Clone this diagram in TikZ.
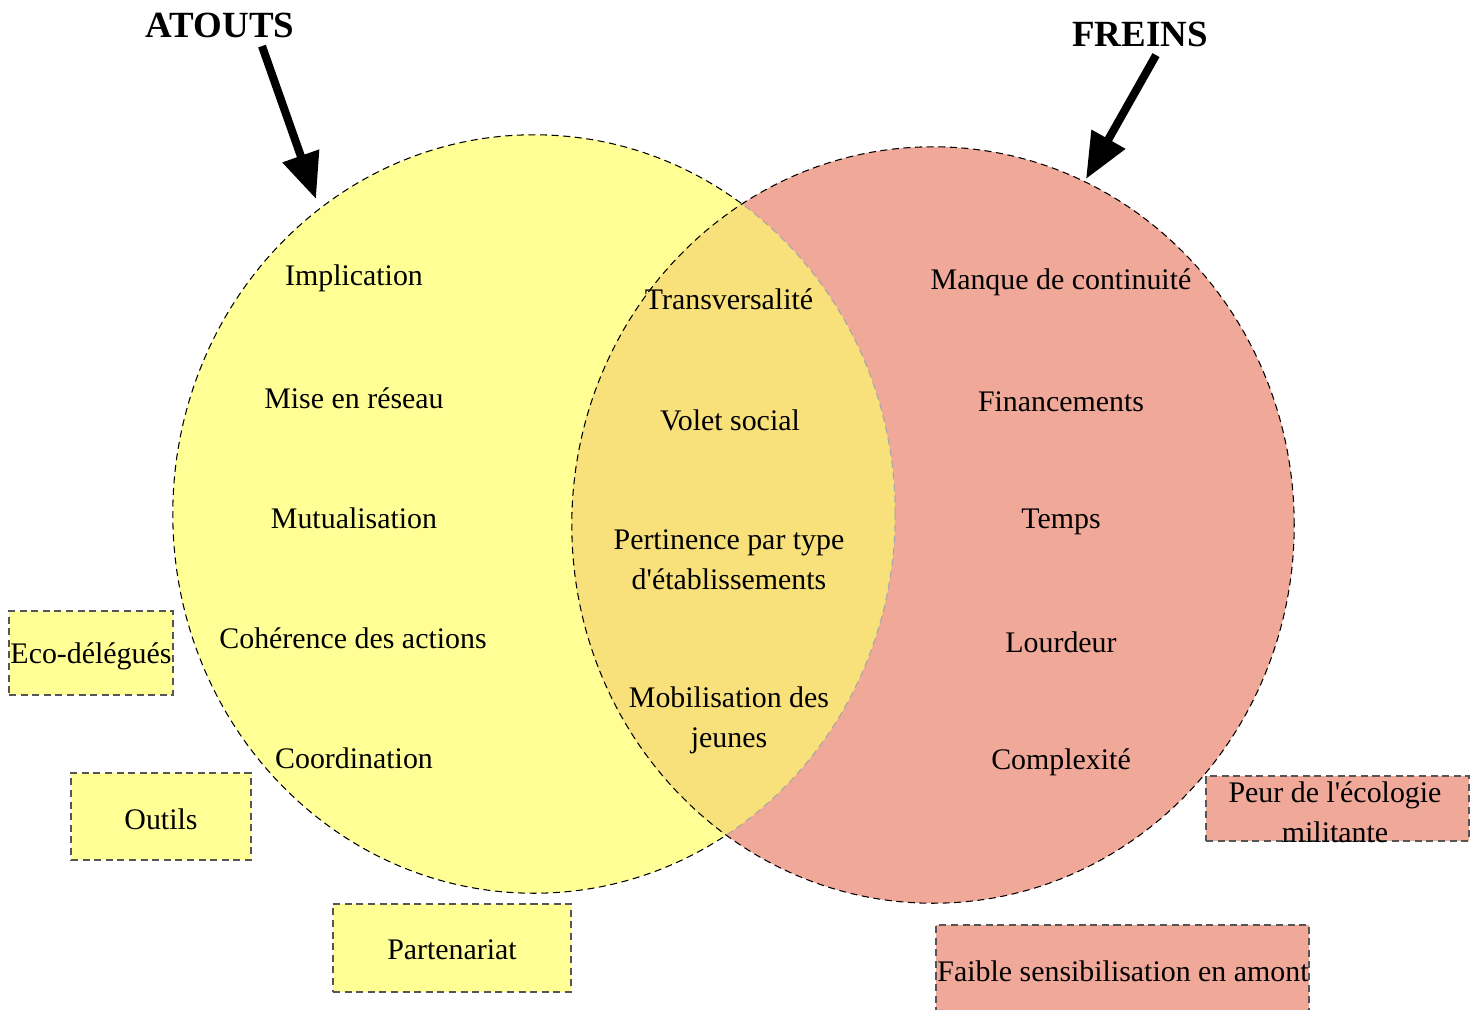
\documentclass[tikz,border=0pt]{standalone}
\usepackage{fontspec}
\setmainfont{Liberation Serif}
\usetikzlibrary{arrows.meta}
\definecolor{atoutfill}{RGB}{255,255,150}
\definecolor{freinfill}{RGB}{240,168,153}
\definecolor{bothfill}{RGB}{248,224,122}
\definecolor{boxline}{RGB}{85,85,85}
\newcommand{\apos}{\textquotesingle}
\begin{document}
\begin{tikzpicture}[x=0.01cm,y=-0.01cm,
  item/.style={font=\fontsize{8.5}{11.4}\selectfont, align=center, inner sep=0pt},
  title/.style={font=\fontsize{10.5}{12}\selectfont\bfseries, inner sep=0pt},
  outline/.style={draw=black, line width=0.3pt, dash pattern=on 2pt off 1.3pt},
  extrabox/.style={draw=boxline, line width=0.45pt, dash pattern=on 2pt off 1.3pt, inner sep=0pt},
  pointer/.style={line width=2.3pt, -{Triangle[length=13pt,width=10.5pt]}}]
\useasboundingbox (0,0) rectangle (1482,1009);

% the two sets
\fill[atoutfill] (534,514) ellipse [x radius=3.61cm, y radius=3.79cm];
\draw[outline] (534,514) ellipse [x radius=3.61cm, y radius=3.79cm];
\fill[freinfill] (933,525) ellipse [x radius=3.61cm, y radius=3.78cm];
% their common part
\begin{scope}
  \clip (933,525) ellipse [x radius=3.61cm, y radius=3.78cm];
  \fill[bothfill] (534,514) ellipse [x radius=3.61cm, y radius=3.79cm];
  \draw[outline, draw=black!35] (534,514) ellipse [x radius=3.61cm, y radius=3.79cm];
\end{scope}
\draw[outline] (933,525) ellipse [x radius=3.61cm, y radius=3.78cm];

% titles and pointers
\node[title] (atouts) at (220,25) {ATOUTS};
\node[title] (freins) at (1140,34) {FREINS};
\coordinate (atoutsTip) at (316,199);
\coordinate (freinsTip) at (1086,179);
\draw[pointer] (atouts.south) ++(42,8) coordinate (atoutsTail) -- (atoutsTip);
\draw[pointer] (freins.south) ++(16,8) coordinate (freinsTail) -- (freinsTip);

% strengths
\node[item] (implication) at (354,278) {Implication};
\node[item] (reseau) at (354,398) {Mise en réseau};
\node[item] (mutualisation) at (354,518) {Mutualisation};
\node[item] (coherence) at (353,638) {Cohérence des actions};
\node[item] (coordination) at (354,758) {Coordination};

% shared items
\node[item] (transversalite) at (729,299) {Transversalité};
\node[item] (volet) at (730,420) {Volet social};
\node[item] (pertinence) at (729,560) {Pertinence par type\\d\apos établissements};
\node[item] (mobilisation) at (729,720) {Mobilisation des\\jeunes};

% obstacles
\node[item] (continuite) at (1061,282) {Manque de continuité};
\node[item] (financements) at (1061,402) {Financements};
\node[item] (temps) at (1061,522) {Temps};
\node[item] (lourdeur) at (1061,642) {Lourdeur};
\node[item] (complexite) at (1061,762) {Complexité};

% items outside the sets
\node[extrabox, fill=atoutfill, minimum width=1.64cm, minimum height=0.84cm] (ecobox) at (91,653) {};
\node[item] (eco) at (91,656) {Eco-délégués};
\node[extrabox, fill=atoutfill, minimum width=1.80cm, minimum height=0.87cm] (outilsbox) at (161,816.5) {};
\node[item] (outils) at (161,819) {Outils};
\node[extrabox, fill=atoutfill, minimum width=2.38cm, minimum height=0.88cm] (partbox) at (452,948) {};
\node[item] (partenariat) at (452,950) {Partenariat};
\node[extrabox, fill=freinfill, minimum width=2.63cm, minimum height=0.65cm] (peurbox) at (1337.5,808.5) {};
\node[item] (peur) at (1335,812) {Peur de l\apos écologie\\militante};
\node[extrabox, fill=freinfill, minimum width=3.73cm, minimum height=0.88cm] (faiblebox) at (1122.5,969) {};
\node[item] (faible) at (1123,971) {Faible sensibilisation en amont};
\end{tikzpicture}
\end{document}
